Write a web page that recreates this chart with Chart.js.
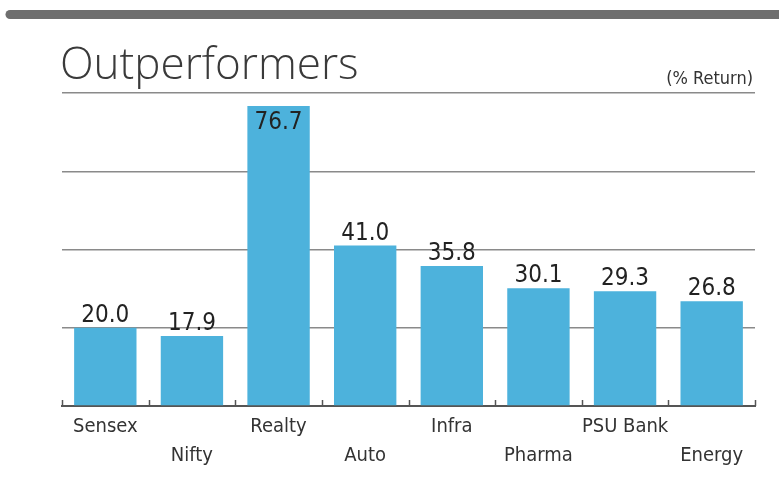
<!DOCTYPE html>
<html>
<head>
<meta charset="utf-8">
<script src="https://cdn.jsdelivr.net/npm/chart.js@4"></script>
<style>
  html, body { margin: 0; padding: 0; background: #fff; }
  #wrap { width: 779px; height: 484px; }
</style>
</head>
<body>
<div id="wrap"><canvas id="myChart" width="779" height="484"></canvas></div>
<script>
const TITLE = 'Outperformers';
const UNIT_NOTE = '(% Return)';
const categories = ['Sensex', 'Nifty', 'Realty', 'Auto', 'Infra', 'Pharma', 'PSU Bank', 'Energy'];
const returns = [20.0, 17.9, 76.7, 41.0, 35.8, 30.1, 29.3, 26.8];
const yTicks = [0, 20, 40, 60, 80];

const BAR_COLOR = '#4db2dc';
const LABEL_FONT = '"DejaVu Sans Condensed", "DejaVu Sans", sans-serif';

// staggered labels: even ones on the first line, odd ones on the second
const labels = categories.map((c, i) => i % 2 === 0 ? [c, ''] : ['', c]);

const header = {
  id: 'header',
  beforeDraw(chart) {
    const ctx = chart.ctx;
    ctx.save();
    // grey rule across the top
    ctx.fillStyle = '#6e6e6e';
    ctx.beginPath();
    ctx.moveTo(10, 10);
    ctx.lineTo(779, 10);
    ctx.lineTo(779, 19);
    ctx.lineTo(10, 19);
    ctx.arc(10, 14.5, 4.5, Math.PI / 2, Math.PI * 1.5);
    ctx.fill();

    ctx.fillStyle = '#3a3a3a';
    ctx.textBaseline = 'alphabetic';
    ctx.textAlign = 'left';
    ctx.font = '300 44px "Open Sans", Lato, sans-serif';
    ctx.fillText(TITLE, 60, 79);

    ctx.fillStyle = '#333';
    ctx.textAlign = 'right';
    ctx.font = '18px ' + LABEL_FONT;
    ctx.fillText(UNIT_NOTE, 753, 84);
    ctx.restore();
  }
};

const valueLabels = {
  id: 'valueLabels',
  afterDatasetsDraw(chart) {
    const ctx = chart.ctx;
    const meta = chart.getDatasetMeta(0);
    const area = chart.chartArea;
    ctx.save();
    ctx.fillStyle = '#222';
    ctx.font = '24px ' + LABEL_FONT;
    ctx.textAlign = 'center';
    meta.data.forEach((bar, i) => {
      const txt = returns[i].toFixed(1);
      if (bar.y - 26 < area.top) {
        ctx.textBaseline = 'top';
        ctx.fillText(txt, bar.x, bar.y + 5);
      } else {
        ctx.textBaseline = 'alphabetic';
        ctx.fillText(txt, bar.x, bar.y - 6);
      }
    });

    // small upward tick marks at category boundaries
    const x = chart.scales.x;
    const step = x.width / categories.length;
    ctx.strokeStyle = '#555';
    ctx.lineWidth = 1.5;
    for (let i = 0; i <= categories.length; i++) {
      const px = Math.round(x.left + i * step) + 0.5;
      ctx.beginPath();
      ctx.moveTo(px, area.bottom);
      ctx.lineTo(px, area.bottom - 6);
      ctx.stroke();
    }
    ctx.restore();
  }
};

const ctx = document.getElementById('myChart').getContext('2d');
const myChart = new Chart(ctx, {
  type: 'bar',
  data: {
    labels: labels,
    datasets: [{
      data: returns,
      backgroundColor: BAR_COLOR,
      barPercentage: 0.72,
      categoryPercentage: 1.0
    }]
  },
  options: {
    responsive: false,
    animation: false,
    layout: { padding: { top: 93, left: 62, right: 24, bottom: 8 } },
    plugins: {
      legend: { display: false },
      tooltip: { enabled: false }
    },
    scales: {
      x: {
        grid: { display: false, drawTicks: false },
        border: { display: true, color: '#555', width: 2 },
        ticks: {
          color: '#333',
          font: { family: LABEL_FONT, size: 20, lineHeight: 1.45 },
          padding: 6,
          autoSkip: false,
          maxRotation: 0
        }
      },
      y: {
        min: yTicks[0],
        max: yTicks[yTicks.length - 1],
        afterBuildTicks(scale) {
          scale.ticks = yTicks.map(v => ({ value: v }));
        },
        ticks: { display: false },
        grid: {
          drawTicks: false,
          color: c => c.tick && c.tick.value === 0 ? '#555' : '#8a8a8a',
          lineWidth: 1.5
        },
        border: { display: false }
      }
    }
  },
  plugins: [header, valueLabels]
});
</script>
</body>
</html>
